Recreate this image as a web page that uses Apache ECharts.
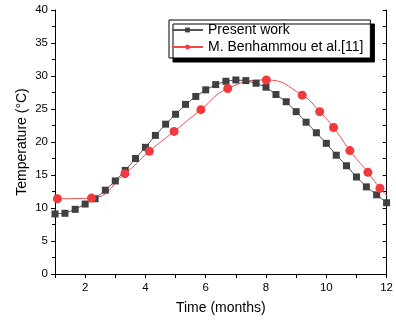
<!DOCTYPE html>
<html lang="en">
<head>
    <meta charset="UTF-8">
    <title>Temperature</title>
    <script src="https://cdn.jsdelivr.net/npm/echarts@6/dist/echarts.min.js"></script>
    <style>
        html, body { margin: 0; padding: 0; background: #fff; }
        #chart { width: 396px; height: 320px; }
    </style>
</head>
<body>
<div id="chart"></div>
<script>
  // present work: months / temperature
  var presentMonths = [
    1, 1.33, 1.67, 2, 2.33, 2.67, 3, 3.33, 3.67, 4, 4.33, 4.67,
    5, 5.33, 5.67, 6, 6.33, 6.67, 7, 7.33, 7.67, 8, 8.33, 8.67,
    9, 9.33, 9.67, 10, 10.33, 10.67, 11, 11.33, 11.67, 12
  ];
  var presentTemp = [
    9.1, 9.2, 9.8, 10.6, 11.4, 12.7, 14.1, 15.7, 17.5, 19.2, 21.0, 22.7,
    24.2, 25.7, 26.9, 27.9, 28.7, 29.2, 29.4, 29.3, 28.9, 28.3, 27.2, 26.1,
    24.6, 23.0, 21.4, 19.8, 18.0, 16.4, 14.7, 13.2, 12.0, 10.8
  ];
  // M. Benhammou et al.[11]
  var refMonths = [1.08, 2.21, 3.32, 4.13, 4.95, 5.84, 6.73, 8.01, 9.2, 9.78, 10.24, 10.78, 11.38, 11.78, 12.03];
  var refTemp = [11.4, 11.5, 15.2, 18.6, 21.6, 24.9, 28.1, 29.4, 27.1, 24.6, 22.2, 18.7, 15.4, 13.0, 11.8];

  var xTicks = [2, 4, 6, 8, 10, 12];
  var yTicks = [0, 5, 10, 15, 20, 25, 30, 35, 40];

  function pairs(xs, ys) {
    var out = [];
    for (var i = 0; i < xs.length; i++) out.push([xs[i], ys[i]]);
    return out;
  }

  var font = 'Liberation Sans, Arial, sans-serif';
  var axisColor = '#000';

  var options = {
    animation: false,
    grid: { left: 55, right: 3, top: 10, bottom: 45 },
    legend: {
      orient: 'vertical',
      left: 169,
      top: 20,
      itemWidth: 31,
      itemHeight: 6,
      itemGap: 1,
      padding: [2, 7, 3, 2],
      backgroundColor: '#fff',
      borderColor: '#000',
      borderWidth: 1,
      borderRadius: 0,
      shadowColor: '#000',
      shadowBlur: 0,
      shadowOffsetX: 4,
      shadowOffsetY: 4,
      textStyle: { fontFamily: font, fontSize: 14, color: '#000', lineHeight: 16 },
      data: ['Present work', 'M. Benhammou et al.[11]']
    },
    xAxis: [
      {
        type: 'value', min: 1, max: 12, interval: 1,
        name: 'Time (months)', nameLocation: 'middle', nameGap: 27,
        nameTextStyle: { fontFamily: font, fontSize: 14, color: '#000' },
        axisLine: { lineStyle: { color: axisColor, width: 1 } },
        axisTick: { inside: false, length: 4, lineStyle: { color: axisColor } },
        axisLabel: {
          fontFamily: font, fontSize: 11.5, color: '#000', margin: 8,
          formatter: function(v) { return xTicks.indexOf(v) >= 0 ? String(v) : ''; }
        },
        splitLine: { show: false }
      },
      {
        type: 'value', min: 1, max: 12, interval: 1, position: 'top',
        axisLine: { show: true, lineStyle: { color: axisColor, width: 1 } },
        axisTick: { show: true, inside: true, length: 4, lineStyle: { color: axisColor } },
        axisLabel: { show: false },
        splitLine: { show: false }
      }
    ],
    yAxis: [
      {
        type: 'value', min: 0, max: 40, interval: 5,
        name: 'Temperature (\u00b0C)', nameLocation: 'middle', nameGap: 26,
        nameMoveOverlap: false,
        nameTextStyle: { fontFamily: font, fontSize: 14, color: '#000' },
        axisLine: { show: true, lineStyle: { color: axisColor, width: 1 } },
        axisTick: { show: true, length: 4, lineStyle: { color: axisColor } },
        minorTick: { show: true, splitNumber: 2, length: 3, lineStyle: { color: axisColor } },
        axisLabel: {
          fontFamily: font, fontSize: 11.5, color: '#000', margin: 7,
          formatter: function(v) { return yTicks.indexOf(v) >= 0 ? String(v) : ''; }
        },
        splitLine: { show: false }
      },
      {
        type: 'value', min: 0, max: 40, interval: 2.5, position: 'right',
        axisLine: { show: true, lineStyle: { color: axisColor, width: 1 } },
        axisTick: { show: true, inside: true, length: 4, lineStyle: { color: axisColor } },
        axisLabel: { show: false },
        splitLine: { show: false }
      }
    ],
    series: [
      {
        name: 'Present work',
        type: 'line',
        data: pairs(presentMonths, presentTemp),
        symbol: 'rect',
        symbolSize: 7,
        clip: true,
        lineStyle: { color: '#555', width: 1 },
        itemStyle: { color: '#404040' }
      },
      {
        name: 'M. Benhammou et al.[11]',
        type: 'line',
        data: pairs(refMonths, refTemp),
        smooth: true,
        symbol: 'circle',
        symbolSize: 9,
        clip: true,
        lineStyle: { color: '#f24a4a', width: 1 },
        itemStyle: { color: '#f03a3d' }
      }
    ]
  };

  var myChart = echarts.init(document.getElementById('chart'), null, { renderer: 'canvas' });
  myChart.setOption(options);
</script>
</body>
</html>
